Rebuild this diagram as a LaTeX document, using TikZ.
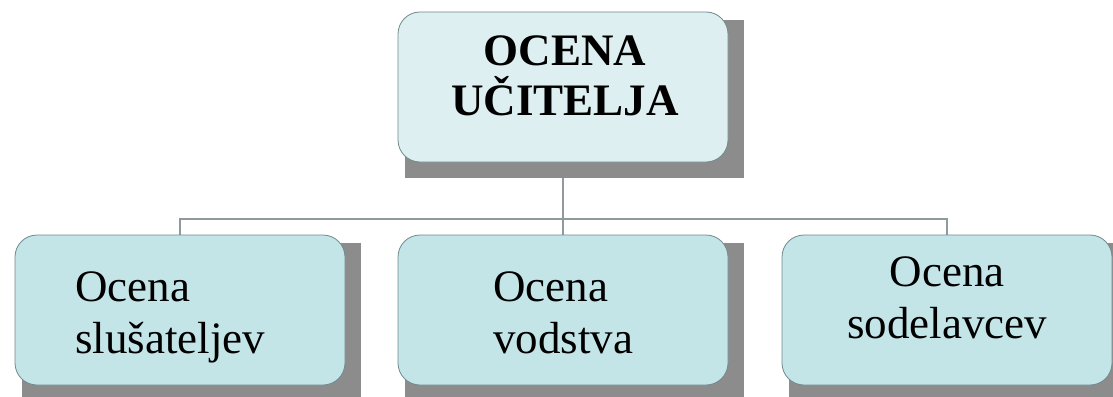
\documentclass[tikz,border=0pt]{standalone}
\usepackage{fontspec}
\setmainfont{Liberation Serif}
\usepackage{tikz}
\usetikzlibrary{calc}
\definecolor{topfill}{HTML}{DDEFF1}
\definecolor{lowfill}{HTML}{C4E5E8}
\definecolor{cardedge}{HTML}{6F8A8E}
\definecolor{shadegray}{HTML}{8C8C8C}
\definecolor{wiregray}{HTML}{8E9A9C}
\pgfdeclarelayer{back}
\pgfdeclarelayer{shade}
\pgfsetlayers{back,shade,main}
\tikzstyle{Card}=[rectangle, rounded corners=22pt, draw=cardedge, line width=0.8pt, minimum width=330pt, minimum height=150pt, inner sep=0pt]
\tikzstyle{Title}=[font=\fontsize{45}{50}\selectfont\bfseries, align=center, inner sep=0pt, anchor=north]
\tikzstyle{Caption}=[font=\fontsize{45}{52}\selectfont, inner sep=0pt]
\tikzstyle{Wire}=[draw=wiregray, line width=1.2pt]

\begin{document}
\begin{tikzpicture}[x=1pt, y=-1pt]
    \clip (0,0) rectangle (1113,396);
    \path
    (563,87) node[Card, fill=topfill] (top) {}
    (180,310) node[Card, fill=lowfill] (left) {}
    (563,310) node[Card, fill=lowfill] (mid) {}
    (947,310) node[Card, fill=lowfill] (right) {};
    \coordinate (fork) at (563,219);

    \path (565,36) node[Title] (toptext) {OCENA\\U\v{C}ITELJA}
    (75,272) node[Caption, align=left, anchor=north west] (lefttext) {Ocena\\slu\v{s}ateljev}
    (493,272) node[Caption, align=left, anchor=north west] (midtext) {Ocena\\vodstva}
    (947,257) node[Caption, align=center, anchor=north] (righttext) {Ocena\\sodelavcev};

    \begin{pgfonlayer}{shade}
    \foreach \card in {top,left,mid,right}
        \fill[shadegray] ($(\card.south west)+(7,16)$) rectangle ($(\card.north east)+(16,8)$);
    \end{pgfonlayer}
    \begin{pgfonlayer}{back}
    \draw[Wire] (top.south) -- (mid.north);
    \draw[Wire] (left.north) |- (fork) -| (right.north);
    \end{pgfonlayer}
\end{tikzpicture}
\end{document}
